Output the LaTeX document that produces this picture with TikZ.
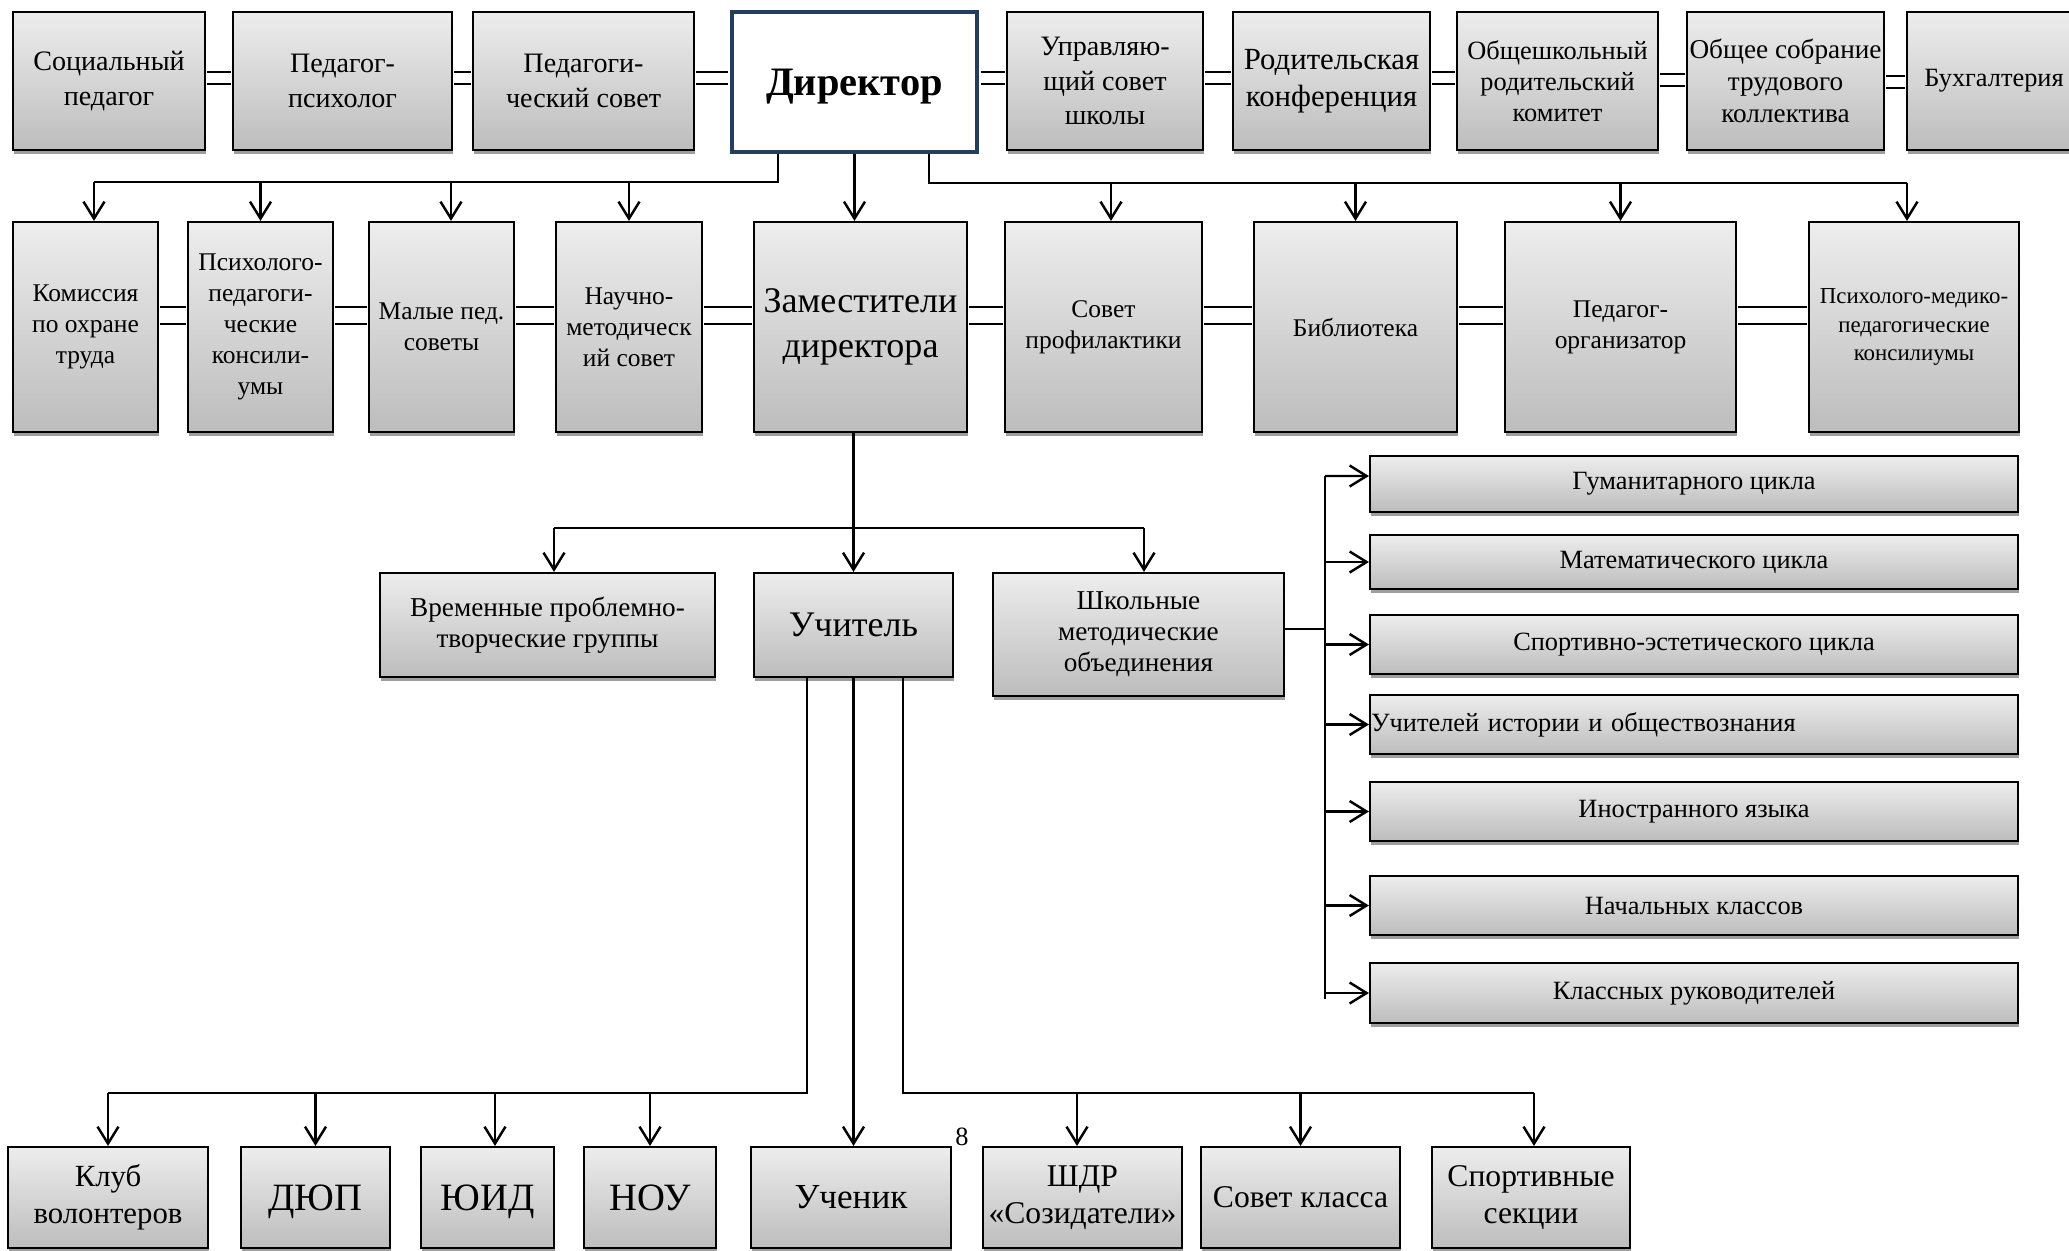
\documentclass[tikz,border=0pt]{standalone}
\usepackage{fontspec}
\setmainfont{Liberation Serif}
\usetikzlibrary{arrows.meta,shadows}
\definecolor{dirblue}{RGB}{36,62,96}
\begin{document}
\begin{tikzpicture}
  \tikzset{block/.style={draw, line width=1.2pt, top color=black!7, bottom color=black!26, align=center, inner sep=0pt,
      drop shadow={shadow xshift=0.02cm, shadow yshift=-0.07cm, fill=black!38, opacity=1}},
    topblock/.style={block, minimum height=2.76cm, font=\fontsize{16}{19.5}\selectfont},
    midblock/.style={block, minimum height=4.2cm, font=\fontsize{14.5}{17.6}\selectfont},
    deptblock/.style={block, minimum width=12.96cm, font=\fontsize{15}{18}\selectfont},
    lowblock/.style={block, minimum height=2.02cm, font=\fontsize{18}{21}\selectfont},
    dirblock/.style={draw=dirblue, line width=2.8pt, fill=white, text depth=0pt, font=\fontsize{23}{27}\selectfont\bfseries},
    conn/.style={line width=1.4pt},
    arr/.style={conn, -{Straight Barb[length=0.34cm, width=0.42cm]}},
    dbltop/.style={line width=1.2pt, double, double distance=0.19cm, shorten <=0.6pt, shorten >=0.6pt},
    dblmid/.style={line width=1.2pt, double, double distance=0.30cm, shorten <=0.6pt, shorten >=0.6pt}}
  \useasboundingbox (0,0) rectangle (41.38,-25.02);
%% Top row
  \node[topblock, minimum width=3.84cm] (soc) at (2.18,-1.62) {Социальный\\педагог};
  \node[topblock, minimum width=4.38cm] (psy) at (6.85,-1.62) {Педагог-\\психолог};
  \node[topblock, minimum width=4.42cm] (pedsov) at (11.67,-1.62) {Педагоги-\\ческий совет};
  \node[dirblock, minimum width=4.90cm, minimum height=2.80cm] (dir) at (17.09,-1.64) {Директор};
  \node[topblock, minimum width=3.92cm] (upr) at (22.10,-1.62) {Управляю-\\щий совет\\школы};
  \node[topblock, minimum width=3.94cm, font=\fontsize{17.5}{21}\selectfont] (rodkonf) at (26.63,-1.62) {Родительская\\конференция};
  \node[topblock, minimum width=4.02cm, font=\fontsize{15}{17.6}\selectfont] (rodkom) at (31.15,-1.62) {Общешкольный\\родительский\\комитет};
  \node[topblock, minimum width=3.94cm, font=\fontsize{15.5}{18}\selectfont] (sobr) at (35.71,-1.62) {Общее собрание\\трудового\\коллектива};
  \node[topblock, minimum width=3.48cm, font=\fontsize{15}{18}\selectfont] (buh) at (39.88,-1.62) {Бухгалтерия};
%% Second row
  \node[midblock, minimum width=2.90cm] (ohr) at (1.71,-6.54) {Комиссия\\по охране\\труда};
  \node[midblock, minimum width=2.90cm] (ppk) at (5.21,-6.54) {Психолого-\\педагоги-\\ческие\\консили-\\умы};
  \node[midblock, minimum width=2.90cm] (mps) at (8.83,-6.54) {Малые пед.\\советы};
  \node[midblock, minimum width=2.92cm] (nms) at (12.58,-6.54) {Научно-\\методическ\\ий совет};
  \node[midblock, minimum width=4.26cm, font=\fontsize{20.5}{26}\selectfont] (zam) at (17.21,-6.54) {Заместители\\директора};
  \node[midblock, minimum width=3.94cm] (prof) at (22.07,-6.54) {Совет\\профилактики};
  \node[midblock, minimum width=4.06cm] (bib) at (27.11,-6.54) {Библиотека};
  \node[midblock, minimum width=4.62cm] (porg) at (32.41,-6.54) {Педагог-\\организатор};
  \node[midblock, minimum width=4.20cm, font=\fontsize{13}{16}\selectfont] (pmpk) at (38.28,-6.54) {Психолого-медико-\\педагогические\\консилиумы};
%% Middle
  \node[block, minimum width=6.70cm, minimum height=2.08cm, font=\fontsize{15.5}{18}\selectfont] (vpg) at (10.95,-12.50) {Временные проблемно-\\творческие группы};
  \node[block, minimum width=3.98cm, minimum height=2.08cm, text depth=0pt, font=\fontsize{20.5}{24}\selectfont] (uch) at (17.07,-12.50) {Учитель};
  \node[block, minimum width=5.82cm, minimum height=2.46cm, font=\fontsize{15.5}{17.6}\selectfont] (shmo) at (22.77,-12.69) {Школьные\\методические\\объединения};
%% Methodical units
  \node[deptblock, minimum height=1.12cm] (gum) at (33.88,-9.68) {Гуманитарного цикла};
  \node[deptblock, minimum height=1.08cm] (mat) at (33.88,-11.24) {Математического цикла};
  \node[deptblock, minimum height=1.18cm] (spest) at (33.88,-12.89) {Спортивно-эстетического цикла};
  \node[deptblock, minimum height=1.18cm, text width=12.92cm, align=left] (ist) at (33.88,-14.49) {Учителей истории и обществознания};
  \node[deptblock, minimum height=1.18cm] (inyaz) at (33.88,-16.23) {Иностранного языка};
  \node[deptblock, minimum height=1.18cm] (nach) at (33.88,-18.11) {Начальных классов};
  \node[deptblock, minimum height=1.20cm] (klruk) at (33.88,-19.86) {Классных руководителей};
%% Bottom row
  \node[lowblock, minimum width=4.00cm, font=\fontsize{17.5}{21}\selectfont] (klub) at (2.16,-23.95) {Клуб\\волонтеров};
  \node[lowblock, minimum width=2.98cm, text depth=0pt, font=\fontsize{22}{26}\selectfont] (dyup) at (6.31,-23.95) {ДЮП};
  \node[lowblock, minimum width=2.66cm, text depth=0pt, font=\fontsize{22}{26}\selectfont] (yuid) at (9.75,-23.95) {ЮИД};
  \node[lowblock, minimum width=2.64cm, text depth=0pt, font=\fontsize{22}{26}\selectfont] (nou) at (13.00,-23.95) {НОУ};
  \node[lowblock, minimum width=4.00cm, font=\fontsize{20}{24}\selectfont] (uchen) at (17.02,-23.95) {Ученик};
  \node[lowblock, minimum width=3.98cm] (shdr) at (21.65,-23.95) {ШДР\\«Созидатели»};
  \node[lowblock, minimum width=3.98cm] (sovkl) at (26.01,-23.95) {Совет класса};
  \node[lowblock, minimum width=3.96cm] (sekc) at (30.62,-23.95) {Спортивные\\секции};
  \node[inner sep=0pt, font=\fontsize{15}{18}\selectfont] (pnum) at (19.24,-22.74) {8};
%% Double links
  \draw[dbltop] ([yshift=0.065cm]soc.east) -- ([yshift=0.065cm]psy.west);
  \draw[dbltop] ([yshift=0.065cm]psy.east) -- ([yshift=0.065cm]pedsov.west);
  \draw[dbltop] ([yshift=0.065cm]pedsov.east) -- ([yshift=0.085cm]dir.west);
  \draw[dbltop] ([yshift=0.085cm]dir.east) -- ([yshift=0.065cm]upr.west);
  \draw[dbltop] ([yshift=0.065cm]upr.east) -- ([yshift=0.065cm]rodkonf.west);
  \draw[dbltop] ([yshift=0.065cm]rodkonf.east) -- ([yshift=0.065cm]rodkom.west);
  \draw[dbltop] ([yshift=0.02cm]rodkom.east) -- ([yshift=0.02cm]sobr.west);
  \draw[dbltop] ([yshift=-0.02cm]sobr.east) -- ([yshift=-0.02cm]buh.west);
  \draw[dblmid] ([yshift=0.23cm]ohr.east) -- ([yshift=0.23cm]ppk.west);
  \draw[dblmid] ([yshift=0.23cm]ppk.east) -- ([yshift=0.23cm]mps.west);
  \draw[dblmid] ([yshift=0.23cm]mps.east) -- ([yshift=0.23cm]nms.west);
  \draw[dblmid] ([yshift=0.23cm]nms.east) -- ([yshift=0.23cm]zam.west);
  \draw[dblmid] ([yshift=0.23cm]zam.east) -- ([yshift=0.23cm]prof.west);
  \draw[dblmid] ([yshift=0.23cm]prof.east) -- ([yshift=0.23cm]bib.west);
  \draw[dblmid] ([yshift=0.23cm]bib.east) -- ([yshift=0.23cm]porg.west);
  \draw[dblmid] ([yshift=0.23cm]porg.east) -- ([yshift=0.23cm]pmpk.west);
%% From director
  \coordinate (busTL) at (1.88,-3.64);
  \coordinate (busTR) at (38.14,-3.66);
  \draw[conn] ([xshift=-1.53cm]dir.south) |- (busTL);
  \draw[arr] (busTL) -- (busTL |- ohr.north);
  \draw[arr] (busTL -| ppk.north) -- (ppk.north);
  \draw[arr] ([xshift=0.19cm]busTL -| mps.north) -- ([xshift=0.19cm]mps.north);
  \draw[arr] (busTL -| nms.north) -- (nms.north);
  \draw[arr] (dir.south) -- (dir.south |- zam.north);
  \draw[conn] ([xshift=1.49cm]dir.south) |- (busTR);
  \draw[arr] ([xshift=0.15cm]busTR -| prof.north) -- ([xshift=0.15cm]prof.north);
  \draw[arr] (busTR -| bib.north) -- (bib.north);
  \draw[arr] (busTR -| porg.north) -- (porg.north);
  \draw[arr] (busTR) -- (busTR |- pmpk.north);
%% From deputies
  \coordinate (brL) at (11.08,-10.56);
  \coordinate (brR) at (22.88,-10.56);
  \draw[arr] (zam.south -| uch.north) -- (uch.north);
  \draw[conn] (brL) -- (brR);
  \draw[arr] (brL) -- (brL |- vpg.north);
  \draw[arr] (brR) -- (brR |- shmo.north);
%% Methodical units
  \coordinate (spTop) at (26.50,-9.52);
  \coordinate (spBot) at (26.50,-19.98);
  \draw[conn] ([yshift=0.11cm]shmo.east) -- ([yshift=0.11cm]shmo.east -| spTop);
  \draw[conn] (spTop) -- (spBot);
  \draw[arr] (spTop) -- ([yshift=0.16cm]gum.west);
  \draw[arr] (spTop |- mat.west) -- (mat.west);
  \draw[arr] (spTop |- spest.west) -- (spest.west);
  \draw[arr] (spTop |- ist.west) -- (ist.west);
  \draw[arr] (spTop |- inyaz.west) -- (inyaz.west);
  \draw[arr] (spTop |- nach.west) -- (nach.west);
  \draw[arr] (spTop |- klruk.west) -- (klruk.west);
%% From teacher
  \coordinate (busBL) at (2.16,-21.86);
  \coordinate (busBR) at (30.68,-21.86);
  \draw[conn] ([xshift=-0.93cm]uch.south) |- (busBL);
  \draw[arr] (busBL) -- (klub.north);
  \draw[arr] (busBL -| dyup.north) -- (dyup.north);
  \draw[arr] ([xshift=0.15cm]busBL -| yuid.north) -- ([xshift=0.15cm]yuid.north);
  \draw[arr] (busBL -| nou.north) -- (nou.north);
  \draw[arr] (uch.south) -- (uch.south |- uchen.north);
  \draw[conn] ([xshift=0.99cm]uch.south) |- (busBR);
  \draw[arr] ([xshift=-0.11cm]busBR -| shdr.north) -- ([xshift=-0.11cm]shdr.north);
  \draw[arr] (busBR -| sovkl.north) -- (sovkl.north);
  \draw[arr] (busBR) -- (busBR |- sekc.north);
\end{tikzpicture}
\end{document}
